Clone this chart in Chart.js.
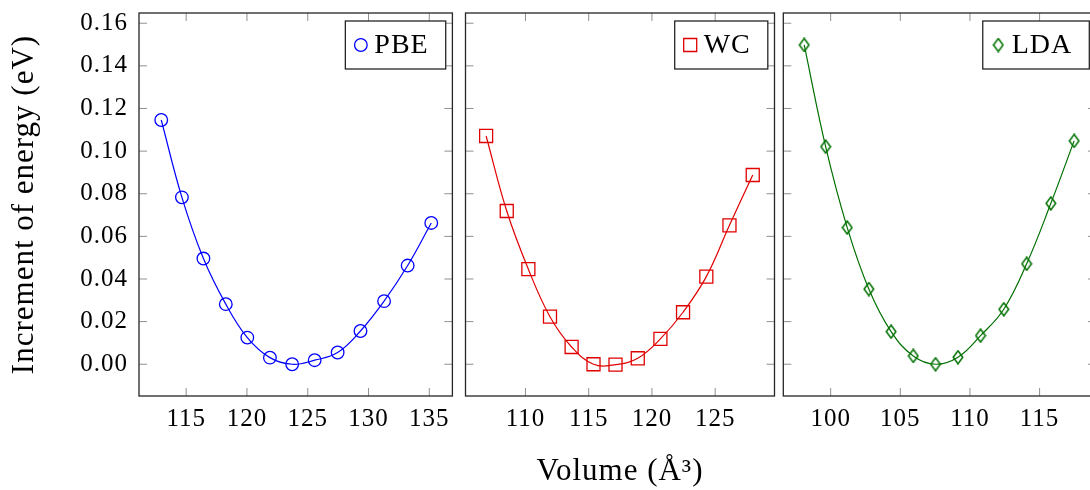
<!DOCTYPE html>
<html>
<head>
<meta charset="utf-8">
<title>Energy vs volume</title>
<script src="https://cdn.jsdelivr.net/npm/chart.js@4/dist/chart.umd.min.js"></script>
<style>
  body { margin: 0; background: #fff; width: 1090px; height: 490px; overflow: hidden; position: relative; }
  canvas { position: absolute; top: 0; }
</style>
</head>
<body>
<canvas id="pbe" width="460" height="490" style="left:0px"></canvas>
<canvas id="wc" width="330" height="490" style="left:455px"></canvas>
<canvas id="lda" width="330" height="490" style="left:776px"></canvas>
<script>
'use strict';

// volumes (A^3) and energy increments (eV) for each functional
let pbeVolume = [112.95, 114.65, 116.42, 118.26, 120.03, 121.89, 123.72, 125.57, 127.46, 129.34, 131.28, 133.22, 135.16];
let pbeEnergy = [0.1146, 0.0783, 0.0496, 0.0282, 0.0125, 0.0031, 0.0000, 0.0019, 0.0055, 0.0156, 0.0296, 0.0463, 0.0663];

let wcVolume = [106.89, 108.52, 110.23, 111.94, 113.65, 115.38, 117.12, 118.88, 120.67, 122.46, 124.30, 126.13, 127.97];
let wcEnergy = [0.1071, 0.0719, 0.0446, 0.0223, 0.0081, 0.0000, -0.0002, 0.0028, 0.0119, 0.0244, 0.0411, 0.0652, 0.0888];

let ldaVolume = [98.10, 99.64, 101.19, 102.74, 104.34, 105.93, 107.53, 109.14, 110.76, 112.43, 114.07, 115.81, 117.48];
let ldaEnergy = [0.1498, 0.1021, 0.0641, 0.0353, 0.0153, 0.0039, 0.0000, 0.0033, 0.0134, 0.0258, 0.0471, 0.0755, 0.1048];

let energyTicks = [0, 0.02, 0.04, 0.06, 0.08, 0.10, 0.12, 0.14, 0.16];
let pbeTicks = [115, 120, 125, 130, 135];
let wcTicks = [110, 115, 120, 125];
let ldaTicks = [100, 105, 110, 115];

const serif = '"Liberation Serif", "DejaVu Serif", serif';

function toPoints(xs, ys) {
    return xs.map((v, i) => ({ x: v, y: ys[i] }));
}

// pgfplots style diamond, a bit taller than wide
function diamondMark(color) {
    let c = document.createElement('canvas');
    c.width = 12; c.height = 15;
    let g = c.getContext('2d');
    g.strokeStyle = color;
    g.lineWidth = 1.5;
    g.beginPath();
    g.moveTo(6, 1); g.lineTo(10.8, 7.5); g.lineTo(6, 14); g.lineTo(1.2, 7.5);
    g.closePath();
    g.stroke();
    return c;
}

// inner tick marks on all four sides, the box and the legend
const frameTicks = {
    id: 'frameTicks',
    beforeDraw(chart) {
        // slightly looser text for the axis labels
        chart.ctx.letterSpacing = '1px';
    },
    beforeDatasetsDraw(chart) {
        let ctx = chart.ctx, a = chart.chartArea;
        let xs = chart.scales.x, ys = chart.scales.y;
        ctx.letterSpacing = '0px';
        ctx.save();
        ctx.strokeStyle = '#909090';
        ctx.lineWidth = 1;
        ctx.beginPath();
        xs.ticks.forEach(t => {
            let p = xs.getPixelForValue(t.value);
            ctx.moveTo(p, a.bottom); ctx.lineTo(p, a.bottom - 8);
            ctx.moveTo(p, a.top); ctx.lineTo(p, a.top + 8);
        });
        ys.ticks.forEach(t => {
            let p = ys.getPixelForValue(t.value);
            ctx.moveTo(a.left, p); ctx.lineTo(a.left + 8, p);
            ctx.moveTo(a.right, p); ctx.lineTo(a.right - 8, p);
        });
        ctx.stroke();
        ctx.restore();
    },
    afterDraw(chart) {
        let ctx = chart.ctx, a = chart.chartArea;
        let ds = chart.data.datasets[0];
        ctx.save();
        ctx.strokeStyle = '#262626';
        ctx.lineWidth = 1.3;
        ctx.strokeRect(a.left, a.top, a.right - a.left, a.bottom - a.top);

        ctx.letterSpacing = '1px';
        ctx.font = '28px ' + serif;
        let tw = ctx.measureText(ds.label).width;
        let w = tw + 46, h = 48;
        let bx = a.right - 6.7 - w, by = a.top + 8;
        ctx.fillStyle = '#fff';
        ctx.fillRect(bx, by, w, h);
        ctx.strokeRect(bx, by, w, h);

        ctx.strokeStyle = ds.pointBorderColor;
        ctx.fillStyle = 'rgba(0,0,0,0)';
        ctx.lineWidth = ds.pointBorderWidth;
        Chart.helpers.drawPoint(ctx, {
            pointStyle: ds.pointStyle, radius: ds.pointRadius,
            borderWidth: ds.pointBorderWidth, rotation: 0
        }, bx + 15.5, by + h / 2);

        ctx.fillStyle = '#000';
        ctx.textBaseline = 'alphabetic';
        ctx.fillText(ds.label, bx + 29, by + 32);
        ctx.restore();
        ctx.letterSpacing = '0px';
    }
};

function makePanel(id, dataset, xRange, xTicks, opts) {
    return new Chart(document.getElementById(id), {
        type: 'line',
        data: { datasets: [dataset] },
        options: {
            responsive: false,
            animation: false,
            events: [],
            layout: { padding: opts.padding },
            plugins: { legend: { display: false }, tooltip: { enabled: false } },
            scales: {
                x: {
                    type: 'linear',
                    min: xRange[0],
                    max: xRange[1],
                    afterBuildTicks: s => { s.ticks = xTicks.map(v => ({ value: v })); },
                    afterFit: s => { s.height = 94; s.paddingLeft = 0; s.paddingRight = 0; },
                    grid: { display: false, drawTicks: false },
                    border: { display: false },
                    ticks: {
                        color: '#000', padding: 11, maxRotation: 0, autoSkip: false,
                        font: { family: serif, size: 25, lineHeight: 1 },
                        callback: v => String(v)
                    },
                    title: {
                        display: !!opts.xTitle,
                        text: opts.xTitle || '',
                        color: '#000',
                        font: { family: serif, size: 31 },
                        padding: { top: 0, bottom: 0 }
                    }
                },
                y: {
                    type: 'linear',
                    min: -0.0149,
                    max: 0.1648,
                    afterBuildTicks: s => { s.ticks = energyTicks.map(v => ({ value: v })); },
                    afterFit: s => { s.width = opts.yWidth; s.paddingTop = 0; s.paddingBottom = 0; },
                    grid: { display: false, drawTicks: false },
                    border: { display: false },
                    ticks: {
                        display: opts.yLabels,
                        color: '#000', padding: 11,
                        font: { family: serif, size: 25, lineHeight: 1 },
                        callback: v => v.toFixed(2)
                    },
                    title: {
                        display: opts.yLabels,
                        text: 'Increment of energy (eV)',
                        color: '#000',
                        font: { family: serif, size: 31 },
                        padding: { top: 6.6, bottom: 0 }
                    }
                }
            }
        },
        plugins: [frameTicks]
    });
}

function series(label, xs, ys, color, style, radius) {
    return {
        label: label,
        data: toPoints(xs, ys),
        borderColor: color,
        borderWidth: 1.2,
        tension: 0.4,
        fill: false,
        pointStyle: style,
        pointRadius: radius,
        pointBorderWidth: 1.3,
        pointBorderColor: color,
        pointBackgroundColor: 'rgba(0,0,0,0)'
    };
}

makePanel('pbe', series('PBE', pbeVolume, pbeEnergy, '#0000ff', 'circle', 6.3),
    [111.12, 136.9], pbeTicks,
    { padding: { left: 0, right: 6.7, top: 13, bottom: 0 }, yWidth: 139, yLabels: true });

makePanel('wc', series('WC', wcVolume, wcEnergy, '#e00000', 'rect', 9.2),
    [105.26, 129.69], wcTicks,
    { padding: { left: 6, right: 9.7, top: 13, bottom: 0 }, yWidth: 0, yLabels: false, xTitle: 'Volume (Å³)' });

makePanel('lda', series('LDA', ldaVolume, ldaEnergy, '#007000', diamondMark('#007000'), 6),
    [96.6, 119.05], ldaTicks,
    { padding: { left: 6, right: 10, top: 13, bottom: 0 }, yWidth: 0, yLabels: false });
</script>
</body>
</html>
